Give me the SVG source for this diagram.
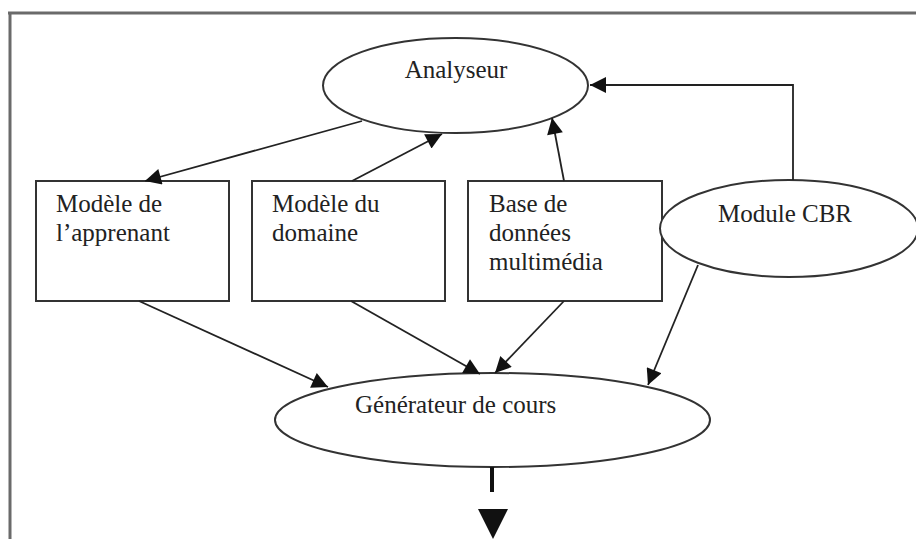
<svg xmlns="http://www.w3.org/2000/svg" width="916" height="539" viewBox="0 0 916 539">
<style>
.frame{stroke:#6a6a6a;stroke-width:3;fill:none}
.node{fill:#fff;stroke:#333;stroke-width:2}
.lbl{font-family:"Liberation Serif","Times New Roman",serif;font-size:25px;fill:#222}
.edge{stroke:#222;stroke-width:1.8;fill:none}
</style>
<defs>
<marker id="ah" viewBox="0 0 10 10" refX="10" refY="5" markerUnits="userSpaceOnUse" markerWidth="20" markerHeight="16" orient="auto">
<path d="M0,0 L10,5 L0,10 z" fill="#111"/>
</marker>
</defs>
<rect width="916" height="539" fill="#fff"/>
<path class="frame" d="M8,13 H916 M10,12 V539"/>
<g id="analyseur">
<ellipse class="node" cx="455.5" cy="85.5" rx="132.5" ry="47.5"/>
<text class="lbl" x="456" y="78" text-anchor="middle">Analyseur</text>
</g>
<g id="modele-apprenant">
<rect class="node" x="36" y="181" width="193" height="120"/>
<text class="lbl" x="56" y="212">Modèle de</text>
<text class="lbl" x="56" y="241">l’apprenant</text>
</g>
<g id="modele-domaine">
<rect class="node" x="252" y="181" width="193" height="120"/>
<text class="lbl" x="272" y="212">Modèle du</text>
<text class="lbl" x="272" y="241">domaine</text>
</g>
<g id="base-donnees">
<rect class="node" x="468" y="181" width="194" height="120"/>
<text class="lbl" x="489" y="212">Base de</text>
<text class="lbl" x="489" y="241">données</text>
<text class="lbl" x="489" y="270">multimédia</text>
</g>
<g id="module-cbr">
<ellipse class="node" cx="789" cy="228.5" rx="129" ry="48.5"/>
<text class="lbl" x="785" y="222" text-anchor="middle">Module CBR</text>
</g>
<g id="generateur">
<ellipse class="node" cx="492.5" cy="420" rx="217.5" ry="47"/>
<text class="lbl" x="355" y="413">Générateur de cours</text>
</g>
<g id="connectors">
<path class="edge" d="M793,180 V85 H590" marker-end="url(#ah)"/>
<path class="edge" d="M362,121 L145,181" marker-end="url(#ah)"/>
<path class="edge" d="M352,181 L442,134" marker-end="url(#ah)"/>
<path class="edge" d="M564,181 L552,118" marker-end="url(#ah)"/>
<path class="edge" d="M139,301 L328,387" marker-end="url(#ah)"/>
<path class="edge" d="M351,301 L480,374" marker-end="url(#ah)"/>
<path class="edge" d="M564,301 L495,373" marker-end="url(#ah)"/>
<path class="edge" d="M698,265 L648,385" marker-end="url(#ah)"/>
<path d="M492,467 V492" stroke="#111" stroke-width="4" fill="none"/>
<path d="M478,509 L508,509 L493,539 z" fill="#111"/>
</g>
</svg>
